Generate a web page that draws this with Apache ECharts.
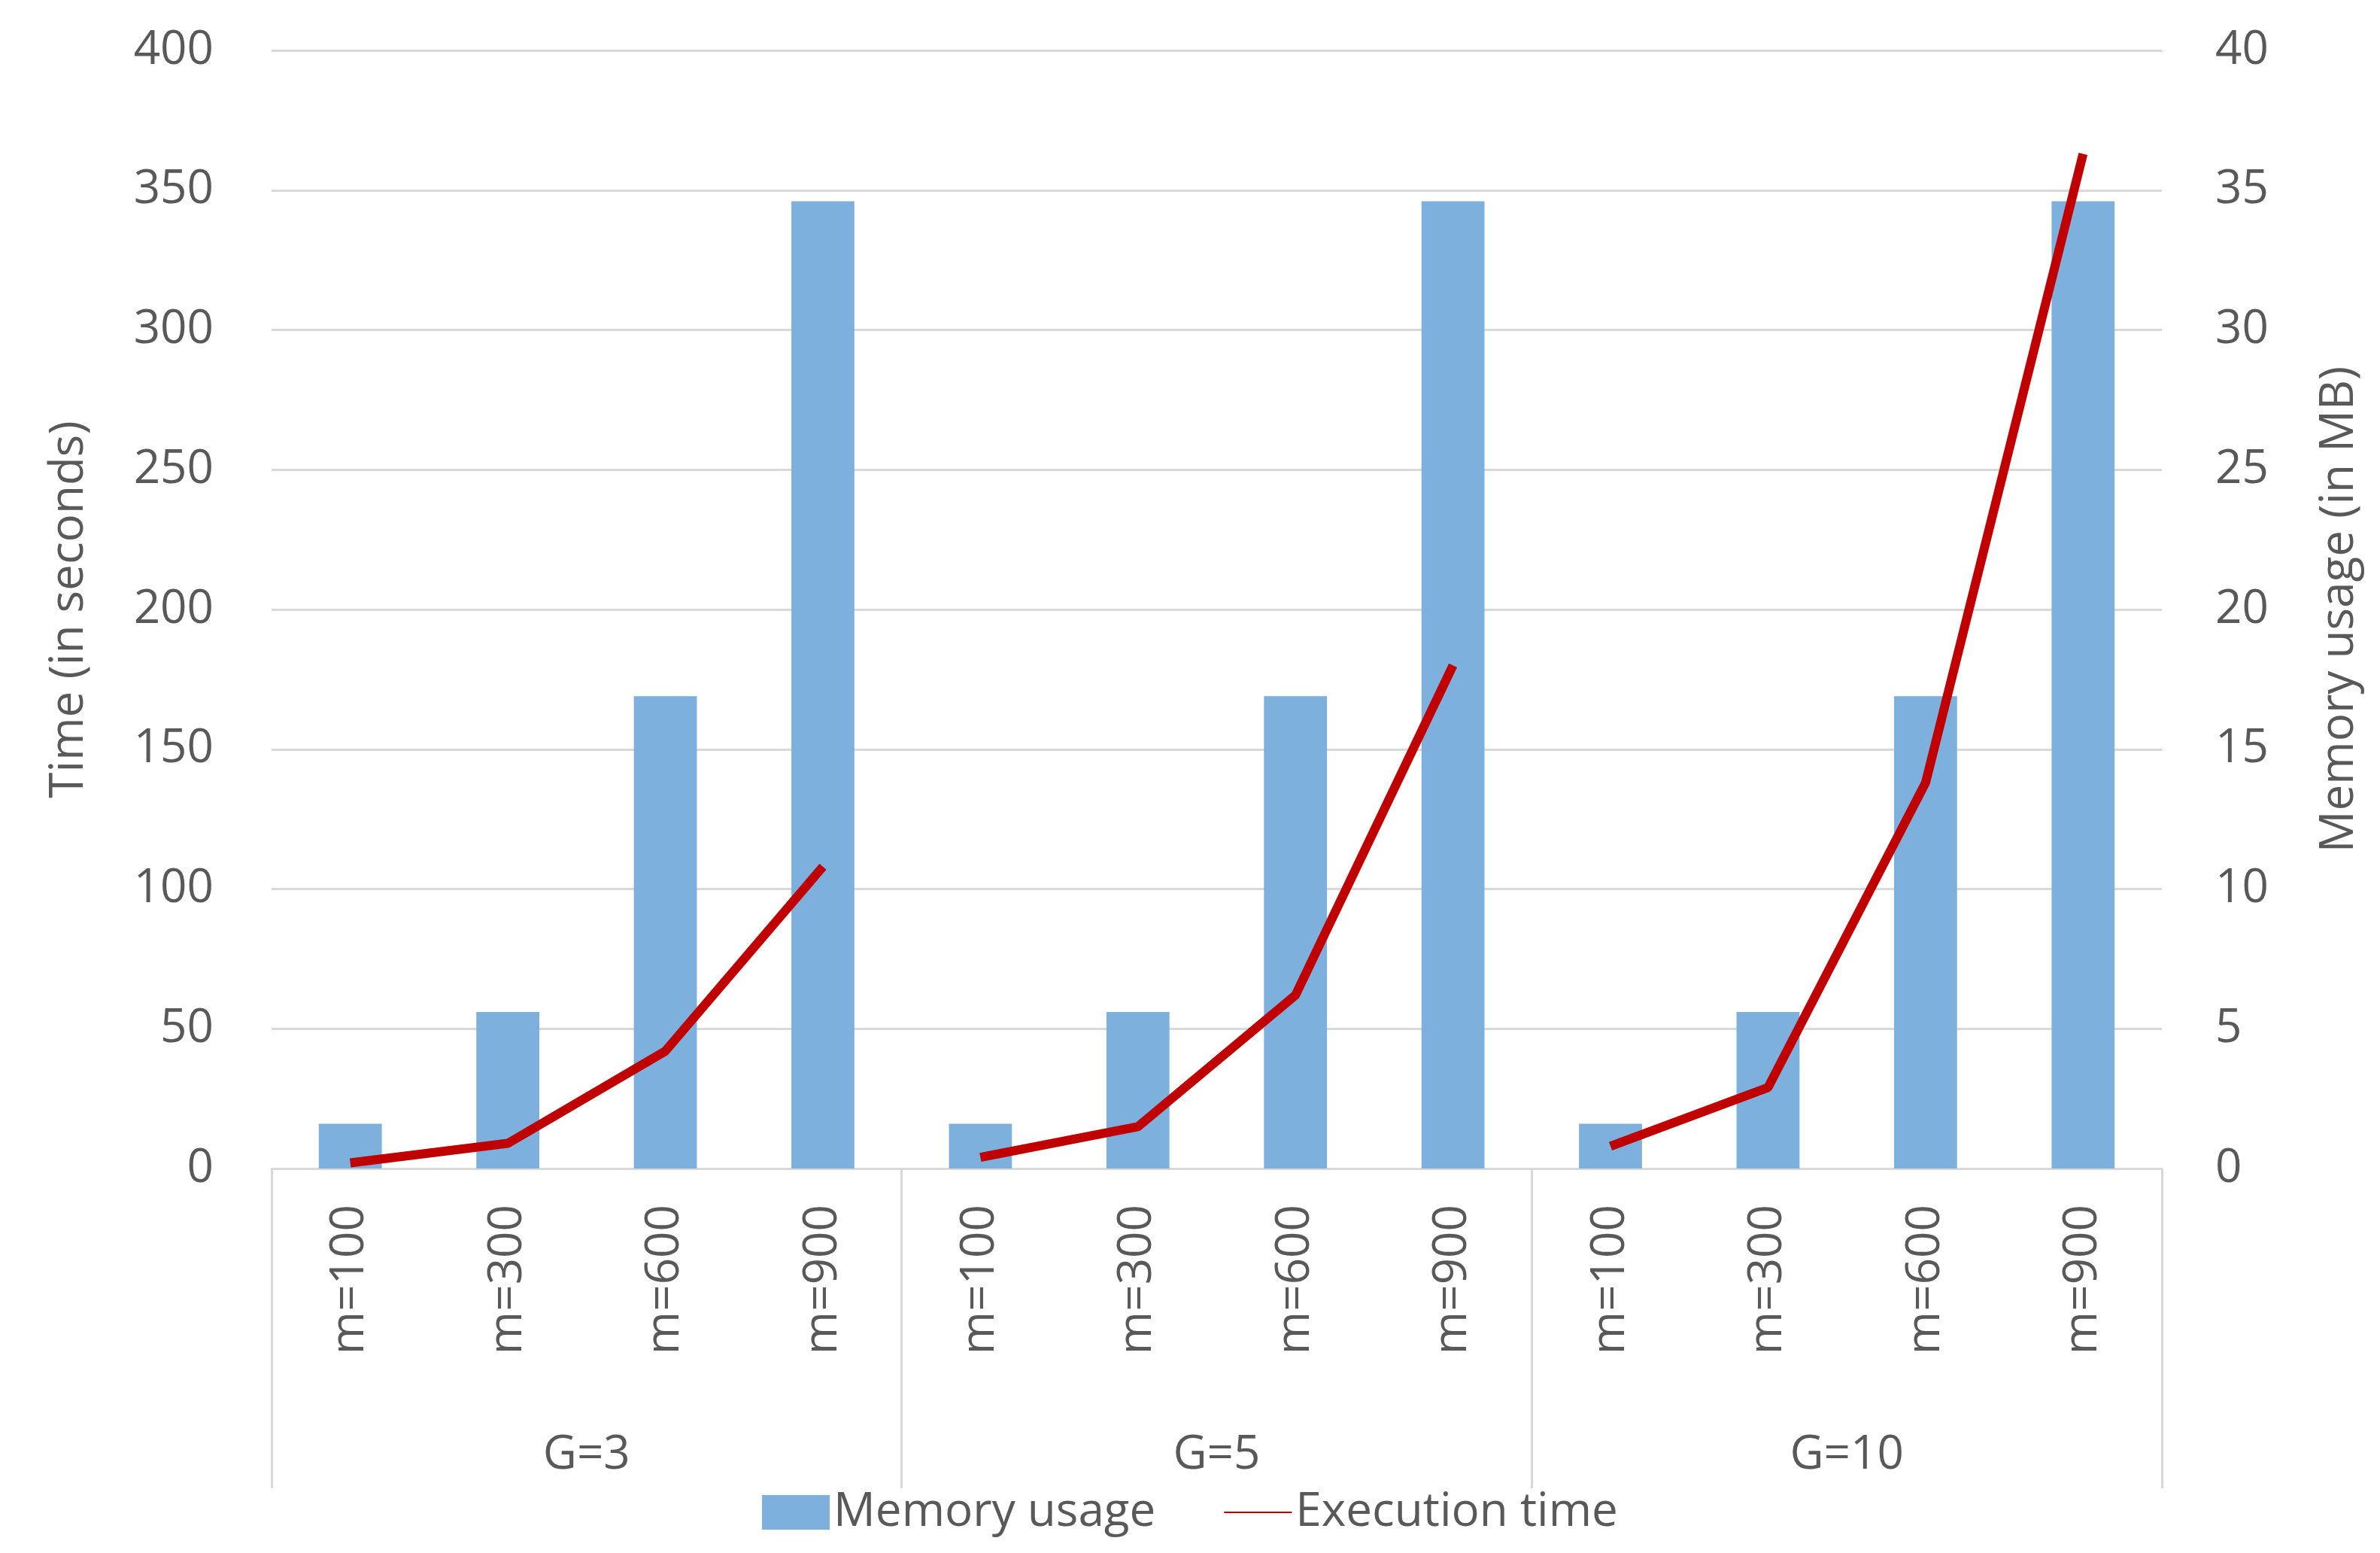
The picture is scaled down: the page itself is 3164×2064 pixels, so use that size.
<!DOCTYPE html>
<html>
<head>
<meta charset="utf-8">
<script src="https://cdn.jsdelivr.net/npm/echarts@6/dist/echarts.min.js"></script>
<style>html,body{margin:0;padding:0;background:#fff}#chart{width:3164px;height:2064px}</style>
</head>
<body>
<div id="chart"></div>
<script>
var categories = ['m=100', 'm=300', 'm=600', 'm=900', 'm=100', 'm=300', 'm=600', 'm=900', 'm=100', 'm=300', 'm=600', 'm=900'];
var groups = ['G=3', 'G=5', 'G=10'];
var memoryUsage = [1.6, 5.6, 16.9, 34.6, 1.6, 5.6, 16.9, 34.6, 1.6, 5.6, 16.9, 34.6];
var timeG3 = [2, 9, 42, 108];
var timeG5 = [4, 15, 62, 180];
var timeG10 = [8, 29, 138, 363];

var textColor = '#595959';
var font = 'Open Sans';
var fs = 62;

var myChart = echarts.init(document.getElementById('chart'));

// each group's line only spans its own four categories
function groupLine(values, groupIndex) {
	var data = [];
	for (var i = 0; i < categories.length; i++) {
		var k = i - groupIndex * 4;
		data.push(k >= 0 && k < 4 ? values[k] : null);
	}
	return {
		name: 'Execution time',
		type: 'line',
		yAxisIndex: 0,
		xAxisIndex: 0,
		symbol: 'none',
		lineStyle: { color: '#c00000', width: 12 },
		itemStyle: { color: '#c00000' },
		data: data
	};
}

var option = {
	animation: false,
	textStyle: { fontFamily: font },
	grid: { left: 361, right: 290, top: 67, bottom: 511 },
	legend: {
		bottom: 18,
		left: 'center',
		itemWidth: 90,
		itemHeight: 46,
		itemGap: 90,
		textStyle: { fontSize: fs, color: textColor, fontFamily: font },
		data: [
			{ name: 'Memory usage', icon: 'rect' },
			{ name: 'Execution time', itemStyle: { opacity: 0 } }
		]
	},
	xAxis: [
		{
			type: 'category',
			data: categories,
			axisLine: { lineStyle: { color: '#d9d9d9', width: 3 } },
			axisTick: { show: false },
			axisLabel: { rotate: 90, margin: 48, fontSize: fs, color: textColor }
		},
		{
			type: 'category',
			data: groups,
			position: 'bottom',
			axisLine: { show: false },
			axisTick: { show: true, length: 425, lineStyle: { color: '#d9d9d9', width: 3 } },
			axisLabel: { margin: 350, fontSize: fs, color: textColor }
		}
	],
	yAxis: [
		{
			type: 'value',
			min: 0, max: 400, interval: 50,
			name: 'Time (in seconds)',
			nameLocation: 'middle',
			nameGap: 238,
			nameTextStyle: { fontSize: fs, color: textColor },
			axisLabel: { fontSize: fs, color: textColor, margin: 77 },
			splitLine: { lineStyle: { color: '#d9d9d9', width: 3 } }
		},
		{
			type: 'value',
			min: 0, max: 40, interval: 5,
			name: 'Memory usage (in MB)',
			nameLocation: 'middle',
			nameGap: 205,
			nameRotate: 90,
			nameTextStyle: { fontSize: fs, color: textColor },
			axisLabel: { fontSize: fs, color: textColor, margin: 71 },
			splitLine: { show: false }
		}
	],
	series: [
		{
			name: 'Memory usage',
			type: 'bar',
			yAxisIndex: 1,
			xAxisIndex: 0,
			barWidth: '40%',
			itemStyle: { color: '#7eb0de' },
			data: memoryUsage
		},
		groupLine(timeG3, 0),
		groupLine(timeG5, 1),
		groupLine(timeG10, 2)
	]
};

myChart.setOption(option);
</script>
</body>
</html>
